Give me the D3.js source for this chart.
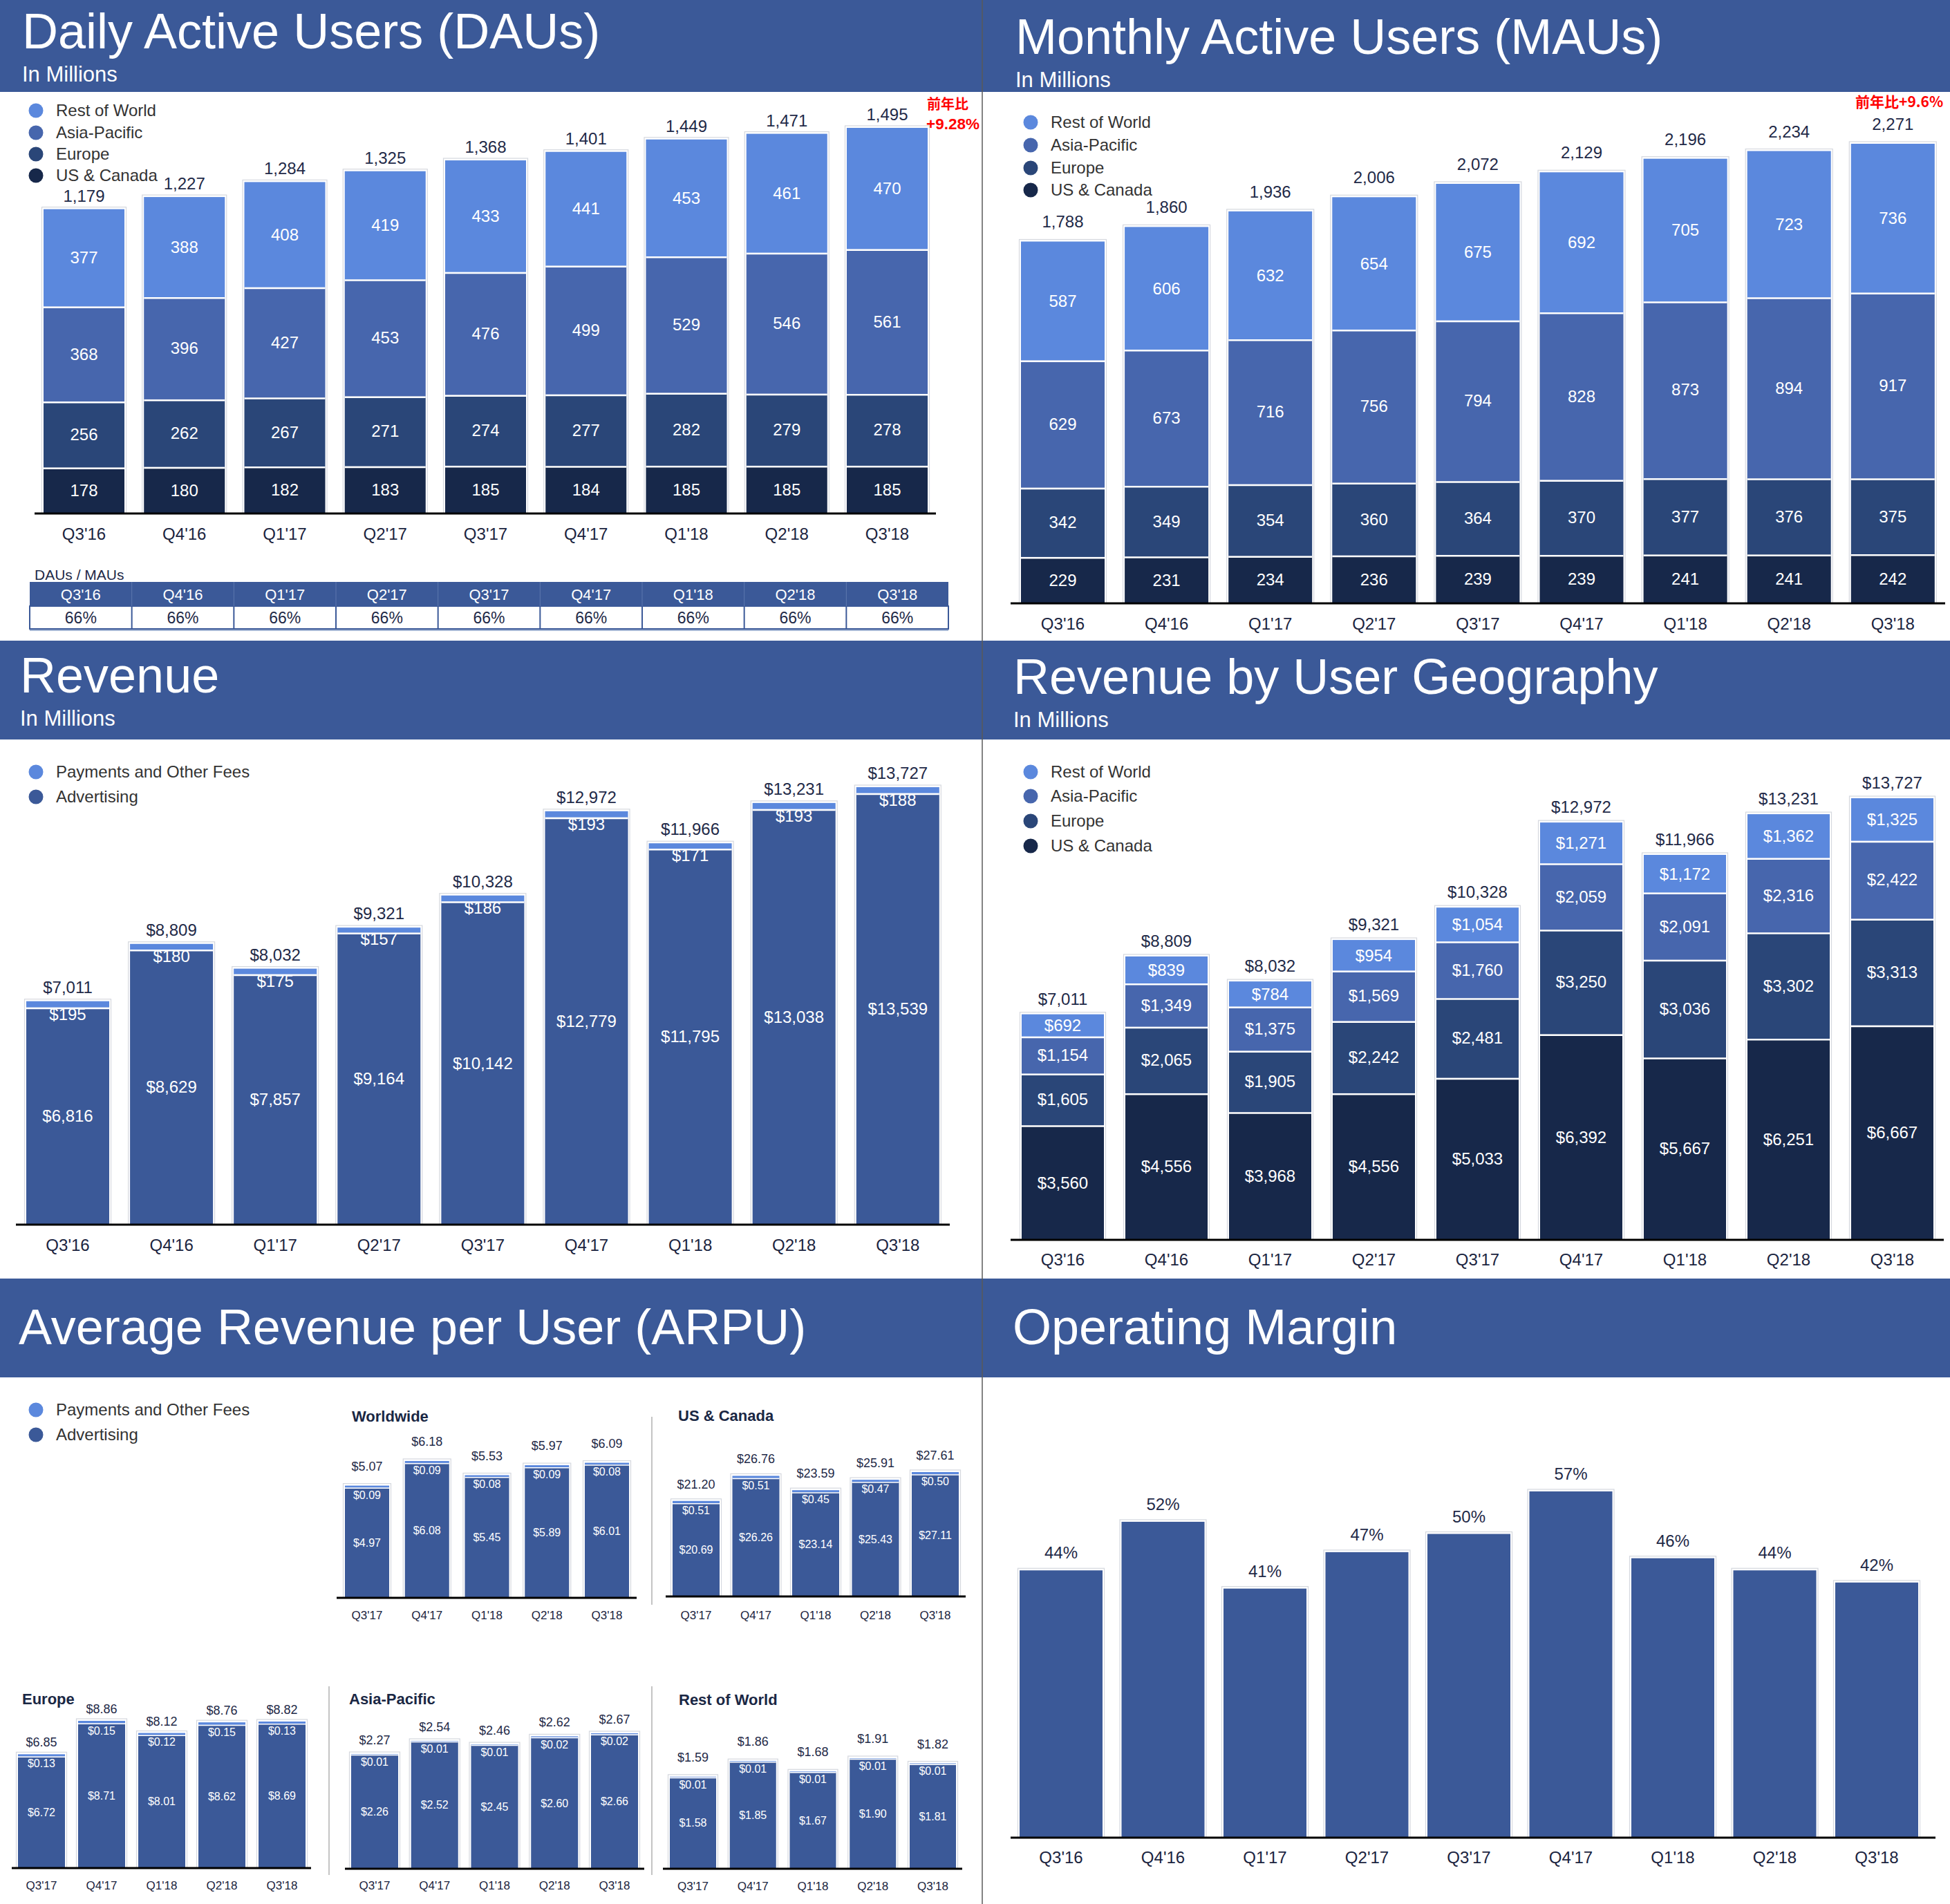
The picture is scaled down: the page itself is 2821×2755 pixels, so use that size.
<!DOCTYPE html>
<html><head><meta charset="utf-8">
<script src="https://cdn.jsdelivr.net/npm/d3@7"></script>
<style>
html,body{margin:0;padding:0;background:#fff;}
svg{display:block;}
</style></head><body>
<svg id="c" width="2821" height="2755"></svg>
<script>
// ---------------- DATA ----------------
const quarters = ["Q3'16","Q4'16","Q1'17","Q2'17","Q3'17","Q4'17","Q1'18","Q2'18","Q3'18"];

const dauRestOfWorld = [377,388,408,419,433,441,453,461,470];
const dauAsiaPacific = [368,396,427,453,476,499,529,546,561];
const dauEurope      = [256,262,267,271,274,277,282,279,278];
const dauUSCanada    = [178,180,182,183,185,184,185,185,185];
const dauTotals      = [1179,1227,1284,1325,1368,1401,1449,1471,1495];

const mauRestOfWorld = [587,606,632,654,675,692,705,723,736];
const mauAsiaPacific = [629,673,716,756,794,828,873,894,917];
const mauEurope      = [342,349,354,360,364,370,377,376,375];
const mauUSCanada    = [229,231,234,236,239,239,241,241,242];
const mauTotals      = [1788,1860,1936,2006,2072,2129,2196,2234,2271];

const dauMauRatio = [66,66,66,66,66,66,66,66,66];

const revPayments    = [195,180,175,157,186,193,171,193,188];
const revAdvertising = [6816,8629,7857,9164,10142,12779,11795,13038,13539];
const revTotals      = [7011,8809,8032,9321,10328,12972,11966,13231,13727];

const geoUSCanada    = [3560,4556,3968,4556,5033,6392,5667,6251,6667];
const geoEurope      = [1605,2065,1905,2242,2481,3250,3036,3302,3313];
const geoAsiaPacific = [1154,1349,1375,1569,1760,2059,2091,2316,2422];
const geoRestOfWorld = [692,839,784,954,1054,1271,1172,1362,1325];

const opMargin = [44,52,41,47,50,57,46,44,42];

const arpuQuarters = ["Q3'17","Q4'17","Q1'18","Q2'18","Q3'18"];
const arpuWWPayments    = [0.09,0.09,0.08,0.09,0.08];
const arpuWWAdvertising = [4.97,6.08,5.45,5.89,6.01];
const arpuWWTotals      = [5.07,6.18,5.53,5.97,6.09];
const arpuUSPayments    = [0.51,0.51,0.45,0.47,0.50];
const arpuUSAdvertising = [20.69,26.26,23.14,25.43,27.11];
const arpuUSTotals      = [21.20,26.76,23.59,25.91,27.61];
const arpuEUPayments    = [0.13,0.15,0.12,0.15,0.13];
const arpuEUAdvertising = [6.72,8.71,8.01,8.62,8.69];
const arpuEUTotals      = [6.85,8.86,8.12,8.76,8.82];
const arpuAPPayments    = [0.01,0.01,0.01,0.02,0.02];
const arpuAPAdvertising = [2.26,2.52,2.45,2.60,2.66];
const arpuAPTotals      = [2.27,2.54,2.46,2.62,2.67];
const arpuRWPayments    = [0.01,0.01,0.01,0.01,0.01];
const arpuRWAdvertising = [1.58,1.85,1.67,1.90,1.81];
const arpuRWTotals      = [1.59,1.86,1.68,1.91,1.82];

// ---------------- STYLE ----------------
const FONT = '"Liberation Sans", Arial, Helvetica, sans-serif';
const COL = {header:'#3b5998', rw:'#5b88dd', ap:'#4766ad', eu:'#2a4678', us:'#17284a',
             pay:'#5b88dd', adv:'#3b5998', total:'#1f2a48', legend:'#333333', axis:'#1b2440'};

const svg = d3.select('#c').attr('font-family', FONT);
svg.append('rect').attr('width',2821).attr('height',2755).attr('fill','#fff');

function header(x0,x1,y0,y1,title,tx,tb,sub,sb){
  svg.append('rect').attr('x',x0).attr('y',y0).attr('width',x1-x0).attr('height',y1-y0).attr('fill',COL.header);
  svg.append('text').attr('x',tx).attr('y',tb).attr('fill','#fff').attr('font-size',72).text(title);
  if(sub) svg.append('text').attr('x',tx).attr('y',sb).attr('fill','#fff').attr('font-size',31).text(sub);
}

function legend(x, ys, items, fs){
  items.forEach((it,i)=>{
    svg.append('circle').attr('cx',x).attr('cy',ys[i]).attr('r',10.5).attr('fill',it.color);
    svg.append('text').attr('x',x+29).attr('y',ys[i]).attr('dy','0.35em').attr('font-size',fs||24)
      .attr('fill',COL.legend).text(it.name);
  });
}

function stackChart(o){
  const n = o.cats.length;
  const x = d3.scaleBand().domain(o.cats)
    .range([o.x0, o.x0 + (n-1)*o.step + o.bw]).paddingInner(1 - o.bw/o.step).paddingOuter(0);
  const keys = o.layers.map((l,i)=>'k'+i);
  const rows = o.cats.map((c,j)=>{const r={cat:c}; o.layers.forEach((l,i)=>r['k'+i]=l.values[j]); return r;});
  const stacked = d3.stack().keys(keys)(rows);
  const top = stacked[stacked.length-1];
  const y = d3.scaleLinear().domain([0, d3.max(top, d=>d[1])]).range([o.axisY, o.topY]);
  const g = svg.append('g');
  const bw = x.bandwidth();
  g.selectAll(null).data(top).join('rect')
    .attr('x', d=>x(d.data.cat)-2.5).attr('width', bw+5)
    .attr('y', d=>y(d[1])-3).attr('height', d=>o.axisY - y(d[1]) + 3)
    .attr('fill','none').attr('stroke','#d5d8de').attr('stroke-width',1.2);
  stacked.forEach((s,i)=>{
    g.selectAll(null).data(s).join('rect')
      .attr('x', d=>x(d.data.cat)).attr('width', bw)
      .attr('y', d=>y(d[1])).attr('height', d=>Math.max(0, y(d[0])-y(d[1])))
      .attr('fill', o.layers[i].color);
  });
  const sw = o.sepW || 2.5;
  stacked.slice(0,-1).forEach(s=>{
    g.selectAll(null).data(s).join('line')
      .attr('x1', d=>x(d.data.cat)).attr('x2', d=>x(d.data.cat)+bw)
      .attr('y1', d=>y(d[1])+sw/2).attr('y2', d=>y(d[1])+sw/2)
      .attr('stroke','#fff').attr('stroke-width', sw);
  });
  stacked.forEach((s,i)=>{
    const L = o.layers[i];
    if(!L.label) return;
    g.selectAll(null).data(s).join('text')
      .attr('x', d=>x(d.data.cat)+bw/2)
      .attr('y', d=> L.label==='hang' ? y(d[0]) + o.hang : (y(d[0])+y(d[1]))/2)
      .attr('dy', L.label==='hang' ? null : '0.35em')
      .attr('text-anchor','middle').attr('fill','#fff').attr('font-size', o.segFs)
      .text(d=>o.fmtSeg(d.data['k'+i]));
  });
  g.selectAll(null).data(top).join('text')
    .attr('x', d=>x(d.data.cat)+bw/2).attr('y', d=>y(d[1]) - o.totalGap)
    .attr('text-anchor','middle').attr('fill',COL.total).attr('font-size', o.totFs)
    .text((d,j)=>o.fmtTotal(o.totals[j]));
  const ax = svg.append('g').attr('transform',`translate(0,${o.axisY})`)
    .call(d3.axisBottom(x).tickSize(0).tickPadding(o.tickOffset));
  ax.select('.domain').remove();
  ax.attr('font-family', FONT).attr('font-size', o.tickFs);
  ax.selectAll('text').attr('dy','0.35em').attr('fill',COL.axis);
  svg.append('line').attr('x1',o.axisX0).attr('x2',o.axisX1).attr('y1',o.axisY).attr('y2',o.axisY)
    .attr('stroke','#000').attr('stroke-width',3);
}

const fmtInt = d3.format(',');
const fmtUsd = v=>'$'+d3.format(',')(v);
const fmtArpu = d3.format('$.2f');

// ---------------- HEADERS ----------------
header(0,1421,0,133,'Daily Active Users (DAUs)',32,70,'In Millions',118);
header(1421,2821,0,133,'Monthly Active Users (MAUs)',1469,78,'In Millions',126);
header(0,1421,927,1070,'Revenue',29,1002,'In Millions',1050);
header(1421,2821,927,1070,'Revenue by User Geography',1466,1004,'In Millions',1052);
header(0,1421,1850,1993,'Average Revenue per User (ARPU)',27,1945);
header(1421,2821,1850,1993,'Operating Margin',1465,1945);
svg.append('line').attr('x1',1421).attr('x2',1421).attr('y1',0).attr('y2',2755)
  .attr('stroke','#5a5a5a').attr('stroke-width',1.5);

const geoItems = [{name:'Rest of World',color:COL.rw},{name:'Asia-Pacific',color:COL.ap},
                  {name:'Europe',color:COL.eu},{name:'US & Canada',color:COL.us}];
const revItems = [{name:'Payments and Other Fees',color:COL.pay},{name:'Advertising',color:COL.adv}];

// ---------------- DAU ----------------
legend(52,[160,192,223,254],geoItems);
stackChart({cats:quarters, layers:[
    {values:dauUSCanada,color:COL.us,label:'center'},
    {values:dauEurope,color:COL.eu,label:'center'},
    {values:dauAsiaPacific,color:COL.ap,label:'center'},
    {values:dauRestOfWorld,color:COL.rw,label:'center'}],
  totals:dauTotals, fmtTotal:fmtInt, fmtSeg:fmtInt,
  x0:63, step:145.25, bw:117, axisY:743, topY:185, axisX0:50, axisX1:1354,
  segFs:24, totFs:24, tickFs:24, totalGap:11, tickOffset:30});
svg.append('text').attr('x',1341).attr('y',158).attr('fill','#ff0000').attr('font-weight','bold')
  .attr('font-size',20).attr('font-family','"Noto Sans CJK JP", sans-serif').text('前年比');
svg.append('text').attr('x',1340).attr('y',187).attr('fill','#ff0000').attr('font-weight','bold')
  .attr('font-size',22.5).text('+9.28%');

// DAU / MAU table
svg.append('text').attr('x',50).attr('y',839).attr('font-size',21).attr('fill',COL.total).text('DAUs / MAUs');
const tx = d3.scaleBand().domain(quarters).range([43,1372]);
svg.append('rect').attr('x',43).attr('y',842).attr('width',1329).attr('height',35).attr('fill',COL.header);
svg.append('rect').attr('x',43).attr('y',877).attr('width',1329).attr('height',33)
  .attr('fill','#fff').attr('stroke',COL.header).attr('stroke-width',2);
svg.append('line').attr('x1',43).attr('x2',1372).attr('y1',912).attr('y2',912).attr('stroke','#8aa0c8').attr('stroke-width',1.5);
quarters.slice(1).forEach(q=>{
  svg.append('line').attr('x1',tx(q)).attr('x2',tx(q)).attr('y1',842).attr('y2',877).attr('stroke','#5d77ae').attr('stroke-width',1);
  svg.append('line').attr('x1',tx(q)).attr('x2',tx(q)).attr('y1',877).attr('y2',910).attr('stroke',COL.header).attr('stroke-width',2);
});
quarters.forEach((q,i)=>{
  svg.append('text').attr('x',tx(q)+tx.bandwidth()/2).attr('y',860).attr('dy','0.35em')
    .attr('text-anchor','middle').attr('fill','#fff').attr('font-size',22).text(q);
  svg.append('text').attr('x',tx(q)+tx.bandwidth()/2).attr('y',894).attr('dy','0.35em')
    .attr('text-anchor','middle').attr('fill',COL.total).attr('font-size',23).text(dauMauRatio[i]+'%');
});

// ---------------- MAU ----------------
legend(1491,[177,210,243,275],geoItems);
stackChart({cats:quarters, layers:[
    {values:mauUSCanada,color:COL.us,label:'center'},
    {values:mauEurope,color:COL.eu,label:'center'},
    {values:mauAsiaPacific,color:COL.ap,label:'center'},
    {values:mauRestOfWorld,color:COL.rw,label:'center'}],
  totals:mauTotals, fmtTotal:fmtInt, fmtSeg:fmtInt,
  x0:1477, step:150.1, bw:121, axisY:873, topY:208, axisX0:1462, axisX1:2814,
  segFs:24, totFs:24, tickFs:24, totalGap:20, tickOffset:30});
svg.append('text').attr('x',2684).attr('y',155).attr('fill','#ff0000').attr('font-weight','bold')
  .attr('font-size',21).attr('font-family','"Noto Sans CJK JP", sans-serif').text('前年比+9.6%');

// ---------------- REVENUE ----------------
legend(52,[1117,1153],revItems);
stackChart({cats:quarters, layers:[
    {values:revAdvertising,color:COL.adv,label:'center'},
    {values:revPayments,color:COL.pay,label:'hang'}],
  totals:revTotals, fmtTotal:fmtUsd, fmtSeg:fmtUsd,
  x0:38, step:150.1, bw:120, axisY:1772, topY:1139, axisX0:23, axisX1:1374,
  segFs:24, totFs:24, tickFs:24, totalGap:12, tickOffset:30, hang:18});

// ---------------- REVENUE BY GEOGRAPHY ----------------
legend(1491,[1117,1152,1188,1224],geoItems);
stackChart({cats:quarters, layers:[
    {values:geoUSCanada,color:COL.us,label:'center'},
    {values:geoEurope,color:COL.eu,label:'center'},
    {values:geoAsiaPacific,color:COL.ap,label:'center'},
    {values:geoRestOfWorld,color:COL.rw,label:'center'}],
  totals:revTotals, fmtTotal:fmtUsd, fmtSeg:fmtUsd,
  x0:1478, step:150, bw:119, axisY:1794, topY:1155, axisX0:1462, axisX1:2812,
  segFs:24, totFs:24, tickFs:24, totalGap:14, tickOffset:29});

// ---------------- ARPU ----------------
legend(52,[2040,2076],revItems);
const arpuCharts = [
  {title:'Worldwide', tx:509, tb:2057, pay:arpuWWPayments, adv:arpuWWAdvertising, tot:arpuWWTotals,
   x0:499, step:86.75, bw:64, axisY:2312, topY:2114, ax0:487, ax1:921, gap:22, toff:25},
  {title:'US & Canada', tx:981, tb:2056, pay:arpuUSPayments, adv:arpuUSAdvertising, tot:arpuUSTotals,
   x0:973, step:86.5, bw:68, axisY:2310, topY:2130, ax0:963, ax1:1397, gap:18, toff:27},
  {title:'Europe', tx:32, tb:2466, pay:arpuEUPayments, adv:arpuEUAdvertising, tot:arpuEUTotals,
   x0:26, step:87, bw:68, axisY:2703, topY:2490, ax0:17, ax1:450, gap:11, toff:25},
  {title:'Asia-Pacific', tx:505, tb:2466, pay:arpuAPPayments, adv:arpuAPAdvertising, tot:arpuAPTotals,
   x0:508, step:86.75, bw:68, axisY:2704, topY:2508, ax0:499, ax1:932, gap:14, toff:24},
  {title:'Rest of World', tx:982, tb:2467, pay:arpuRWPayments, adv:arpuRWAdvertising, tot:arpuRWTotals,
   x0:969, step:86.75, bw:67, axisY:2704, topY:2544, ax0:959, ax1:1392, gap:22, toff:25}
];
arpuCharts.forEach(c=>{
  svg.append('text').attr('x',c.tx).attr('y',c.tb).attr('font-size',22).attr('font-weight','bold')
    .attr('fill','#1a2744').text(c.title);
  stackChart({cats:arpuQuarters, layers:[
      {values:c.adv,color:COL.adv,label:'center'},
      {values:c.pay,color:COL.pay,label:'hang'}],
    totals:c.tot, fmtTotal:fmtArpu, fmtSeg:fmtArpu,
    x0:c.x0, step:c.step, bw:c.bw, axisY:c.axisY, topY:c.topY, axisX0:c.ax0, axisX1:c.ax1,
    segFs:16, totFs:18, tickFs:17, totalGap:c.gap, tickOffset:c.toff, hang:16, sepW:1.5});
});
[[943,2050,2322],[476,2440,2713],[943,2440,2713]].forEach(d=>{
  svg.append('line').attr('x1',d[0]).attr('x2',d[0]).attr('y1',d[1]).attr('y2',d[2])
    .attr('stroke','#c4c4c4').attr('stroke-width',2);
});

// ---------------- OPERATING MARGIN ----------------
stackChart({cats:quarters, layers:[{values:opMargin,color:COL.adv,label:null}],
  totals:opMargin, fmtTotal:v=>v+'%', fmtSeg:v=>v,
  x0:1475, step:147.5, bw:120, axisY:2659, topY:2158, axisX0:1462, axisX1:2800,
  segFs:24, totFs:24, tickFs:24, totalGap:17, tickOffset:29});
</script>
</body></html>
